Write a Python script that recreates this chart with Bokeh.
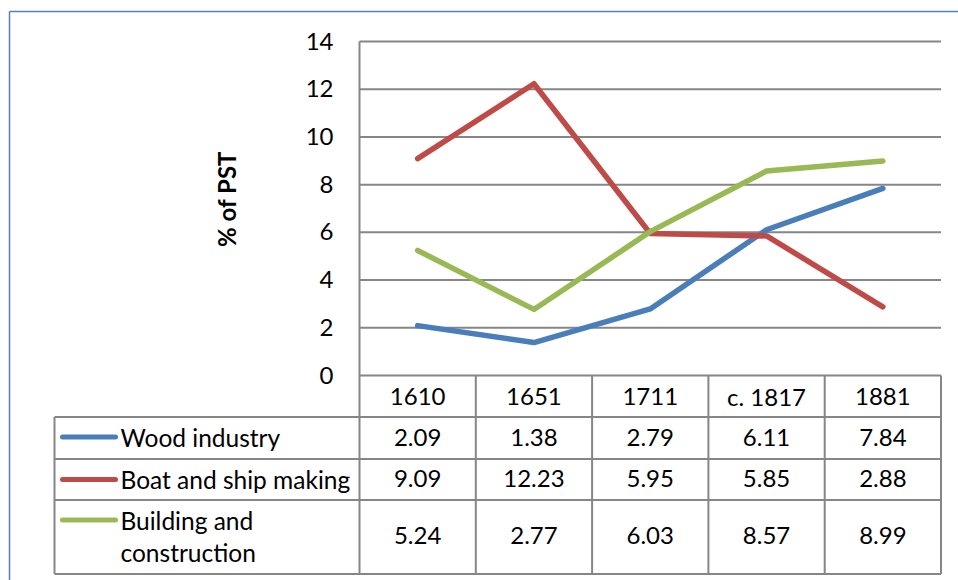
import math
from bokeh.plotting import figure
from bokeh.models import Range1d
from bokeh.embed import file_html
from bokeh.resources import INLINE
from bokeh.core.properties import value

# ---------------- data ----------------
categories = ["1610", "1651", "1711", "c. 1817", "1881"]
series_names = ["Wood industry", "Boat and ship making", "Building and\nconstruction"]
wood = [2.09, 1.38, 2.79, 6.11, 7.84]
boat = [9.09, 12.23, 5.95, 5.85, 2.88]
building = [5.24, 2.77, 6.03, 8.57, 8.99]
y_ticks = [0, 2, 4, 6, 8, 10, 12, 14]
y_title = "% of PST"

series = [wood, boat, building]
colors = ["#4A7EBB", "#BE4B48", "#98B954"]
GRID = "#868686"
BORDER = "#4F81BD"
FONT = "Lato"
FS = "24px"
FS_LEG = "24.5px"

# ---------------- geometry (pixels) ----------------
W, H = 958, 580
PX_L, PX_R = 359, 940.5
PY_0, PY_TOP = 375, 41
n = len(categories)
ymax = y_ticks[-1]
sx = (PX_R - PX_L) / n
sy = (PY_0 - PY_TOP) / ymax


def X(px):
    return (px - PX_L) / sx


def Y(py):
    return (PY_0 - py) / sy


p = figure(width=W, height=H,
           x_range=Range1d(X(0), X(W)), y_range=Range1d(Y(H), Y(0)),
           output_backend="svg", toolbar_location=None, min_border=0,
           x_axis_type=None, y_axis_type=None)
p.outline_line_color = None
p.background_fill_color = "white"

# outer chart border (top and left)
p.segment(x0=[X(9), X(9)], y0=[Y(11), Y(11)], x1=[X(W), X(9)], y1=[Y(11), Y(H)],
          line_color=BORDER, line_width=1.5)

# horizontal gridlines
p.segment(x0=[0] * len(y_ticks), x1=[n] * len(y_ticks), y0=y_ticks, y1=y_ticks,
          line_color=GRID, line_width=2)

# table geometry
row_edges_px = [PY_0, 416.5, 458.5, 499.5, 573.5]
row_edges = [Y(v) for v in row_edges_px]
table_left = X(54)
bottom = row_edges[-1]

# vertical lines: axis line + column borders
vx = list(range(n + 1))
vtop = [ymax] + [0] * n
p.segment(x0=vx, x1=vx, y0=vtop, y1=[bottom] * (n + 1), line_color=GRID, line_width=2)
# table left border
p.segment(x0=[table_left], x1=[table_left], y0=[row_edges[1]], y1=[bottom],
          line_color=GRID, line_width=2)
# table horizontal lines
p.segment(x0=[table_left] * 4, x1=[n] * 4, y0=row_edges[1:], y1=row_edges[1:],
          line_color=GRID, line_width=2)

# series lines
xs = [i + 0.5 for i in range(n)]
for vals, c in zip(series, colors):
    p.line(xs, vals, line_color=c, line_width=5.5, line_cap="round", line_join="round")

MID = dict(text_baseline="middle", text_font=value(FONT), text_color="black")

# y tick labels
p.text(x=[X(333)] * len(y_ticks), y=[t + 0.5 / sy for t in y_ticks], text=[str(t) for t in y_ticks],
       text_align="right", text_font_size=FS, **MID)

# y title
p.text(x=[X(226)], y=[Y(198.5)], text=[y_title], angle=math.pi / 2,
       text_align="center", text_font_size=FS, text_font_style="bold", **MID)

# header row (categories)
p.text(x=xs, y=[Y(396)] * n, text=categories, text_align="center",
       text_font_size=FS, **MID)

# data rows
value_centers = [437, 478, 535]
for vals, cpx in zip(series, value_centers):
    p.text(x=xs, y=[Y(cpx)] * n, text=["%.2f" % v for v in vals], text_align="center",
           text_font_size=FS, **MID)

# legend keys and names
key_y_px = [436.5, 479, 519.5]
p.segment(x0=[X(62)] * 3, x1=[X(115)] * 3, y0=[Y(v) for v in key_y_px],
          y1=[Y(v) for v in key_y_px], line_color=colors, line_width=5, line_cap="round")

name_centers = [[436.5], [478.5], [520, 551.5]]
for name, cs in zip(series_names, name_centers):
    parts = name.split("\n")
    p.text(x=[X(120)] * len(parts), y=[Y(c) for c in cs], text=parts,
           text_align="left", text_font_size=FS_LEG, **MID)

open("out.html", "w").write(file_html(p, INLINE))
